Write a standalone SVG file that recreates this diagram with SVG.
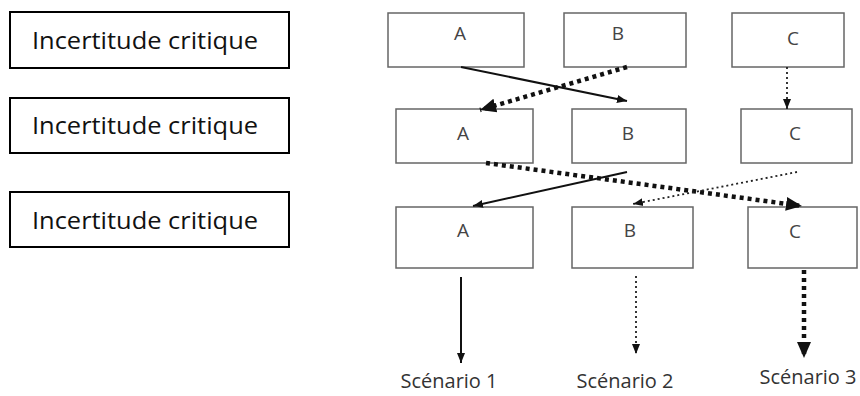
<svg xmlns="http://www.w3.org/2000/svg" width="860" height="396" viewBox="0 0 860 396">
<style>
.lbox{fill:#fff;stroke:#000;stroke-width:2}
.rbox{fill:#fff;stroke:#666;stroke-width:1.5}
.lt{font-family:"Open Sans","Liberation Sans",sans-serif;font-size:23px;fill:#111}
.rt{font-family:"Open Sans","Liberation Sans",sans-serif;font-size:19px;fill:#444;text-anchor:middle}
.st{font-family:"Open Sans","Liberation Sans",sans-serif;font-size:20px;fill:#333;text-anchor:middle}
.solid{stroke:#111;stroke-width:2;fill:none}
.thick{stroke:#111;stroke-width:4.5;stroke-dasharray:4 4;fill:none}
.thin{stroke:#222;stroke-width:1.8;stroke-dasharray:2 3;fill:none}
</style>
<defs>
<marker id="ahs" markerUnits="userSpaceOnUse" markerWidth="12" markerHeight="12" viewBox="0 0 12 12" refX="10" refY="6" orient="auto"><path d="M0,2 L10,6 L0,10 z" fill="#111"/></marker>
<marker id="ahb" markerUnits="userSpaceOnUse" markerWidth="18" markerHeight="18" viewBox="0 0 18 18" refX="16" refY="9" orient="auto"><path d="M0,2 L16,9 L0,16 z" fill="#111"/></marker>
</defs>
<g id="inc1"><rect class="lbox" x="10" y="12" width="279" height="56"/><text class="lt" x="32" y="49" textLength="226" lengthAdjust="spacingAndGlyphs">Incertitude critique</text></g>
<g id="inc2"><rect class="lbox" x="10" y="98" width="279" height="55"/><text class="lt" x="32" y="134" textLength="226" lengthAdjust="spacingAndGlyphs">Incertitude critique</text></g>
<g id="inc3"><rect class="lbox" x="10" y="192" width="279" height="55"/><text class="lt" x="32" y="229" textLength="226" lengthAdjust="spacingAndGlyphs">Incertitude critique</text></g>

<g id="a1"><rect class="rbox" x="388" y="13" width="136" height="54"/><text class="rt" x="460" y="40">A</text></g>
<g id="b1"><rect class="rbox" x="564" y="13" width="122" height="54"/><text class="rt" x="618" y="40">B</text></g>
<g id="c1"><rect class="rbox" x="732" y="13" width="112" height="54"/><text class="rt" x="793" y="45">C</text></g>
<g id="a2"><rect class="rbox" x="396" y="109" width="137" height="54"/><text class="rt" x="463" y="140">A</text></g>
<g id="b2"><rect class="rbox" x="572" y="109" width="114" height="54"/><text class="rt" x="628" y="140">B</text></g>
<g id="c2"><rect class="rbox" x="741" y="109" width="111" height="54"/><text class="rt" x="795" y="140">C</text></g>
<g id="a3"><rect class="rbox" x="396" y="207" width="137" height="61"/><text class="rt" x="463" y="237">A</text></g>
<g id="b3"><rect class="rbox" x="572" y="207" width="121" height="61"/><text class="rt" x="630" y="237">B</text></g>
<g id="c3"><rect class="rbox" x="748" y="207" width="109" height="61"/><text class="rt" x="795" y="238">C</text></g>

<g id="s1"><text class="st" x="449" y="388">Scénario 1</text></g>
<g id="s2"><text class="st" x="625" y="388">Scénario 2</text></g>
<g id="s3"><text class="st" x="808" y="384">Scénario 3</text></g>

<g id="connectors">
<line class="solid" x1="461" y1="67" x2="627" y2="101" marker-end="url(#ahs)"/>
<line class="thick" x1="627" y1="67" x2="480" y2="110" marker-end="url(#ahb)"/>
<line class="thin" x1="787" y1="67" x2="787" y2="109" marker-end="url(#ahs)"/>
<line class="thick" x1="486" y1="163" x2="802" y2="206" marker-end="url(#ahb)"/>
<line class="solid" x1="627" y1="172" x2="473" y2="206" marker-end="url(#ahs)"/>
<line class="thin" x1="797" y1="172" x2="633" y2="204" marker-end="url(#ahs)"/>
<line class="solid" x1="461" y1="277" x2="461" y2="363" marker-end="url(#ahs)"/>
<line class="thin" x1="636" y1="276" x2="636" y2="354" marker-end="url(#ahs)"/>
<line class="thick" x1="804" y1="270" x2="804" y2="358" marker-end="url(#ahb)"/>
</g>
</svg>
